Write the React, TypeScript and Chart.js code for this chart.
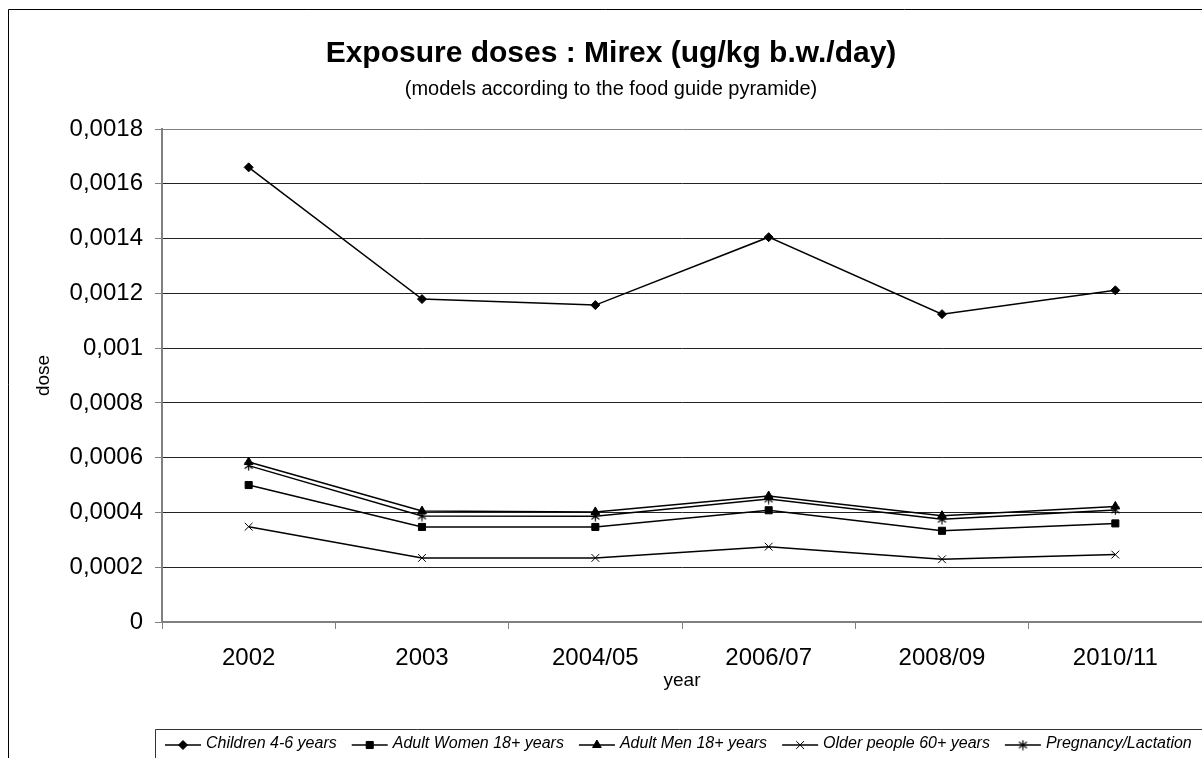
import React, { useEffect, useRef } from 'react';
import { Chart, registerables } from 'chart.js';
import { drawPoint } from 'chart.js/helpers';

Chart.register(...registerables);

const categories = ['2002', '2003', '2004/05', '2006/07', '2008/09', '2010/11'];
const children = [0.00166, 0.001179, 0.001157, 0.001405, 0.001124, 0.001211];
const adultWomen = [0.0005, 0.000347, 0.000347, 0.000408, 0.000333, 0.00036];
const adultMen = [0.000584, 0.000405, 0.000402, 0.00046, 0.000388, 0.000422];
const olderPeople = [0.000348, 0.000234, 0.000234, 0.000275, 0.000229, 0.000246];
const pregnancy = [0.000571, 0.000387, 0.000386, 0.000449, 0.000375, 0.000409];
const seriesLabels = [
  'Children 4-6 years',
  'Adult Women 18+ years',
  'Adult Men 18+ years',
  'Older people 60+ years',
  'Pregnancy/Lactation',
];
const yTicks = [0, 0.0002, 0.0004, 0.0006, 0.0008, 0.001, 0.0012, 0.0014, 0.0016, 0.0018];
const yTickLabels = ['0', '0,0002', '0,0004', '0,0006', '0,0008', '0,001', '0,0012', '0,0014', '0,0016', '0,0018'];
const titleText = 'Exposure doses : Mirex (ug/kg b.w./day)';
const subtitleText = '(models according to the food guide pyramide)';
const xTitle = 'year';
const yTitle = 'dose';

const FONT = '"Liberation Sans", Arial, Helvetica, sans-serif';
const W = 1194;
const H = 750;

function makeAsterisk(): HTMLCanvasElement {
  const c = document.createElement('canvas');
  c.width = 11;
  c.height = 11;
  const g = c.getContext('2d');
  if (g) {
    g.strokeStyle = '#000';
    g.lineWidth = 1.2;
    g.beginPath();
    g.moveTo(5.5, 0.5);
    g.lineTo(5.5, 10.5);
    g.moveTo(1.5, 2.5);
    g.lineTo(9.5, 8.5);
    g.moveTo(1.5, 8.5);
    g.lineTo(9.5, 2.5);
    g.stroke();
  }
  return c;
}

const decorPlugin = {
  id: 'decor',
  afterDraw(chart: any) {
    const ctx = chart.ctx as CanvasRenderingContext2D;
    const cw = chart.width;
    const ch = chart.height;
    ctx.save();
    // outer border (left & top visible)
    ctx.strokeStyle = '#000';
    ctx.lineWidth = 1;
    ctx.beginPath();
    ctx.moveTo(0.5, ch + 5);
    ctx.lineTo(0.5, 1.5);
    ctx.lineTo(cw + 5, 1.5);
    ctx.stroke();

    // title
    ctx.fillStyle = '#000';
    ctx.textAlign = 'center';
    ctx.textBaseline = 'alphabetic';
    ctx.font = `bold 30px ${FONT}`;
    ctx.fillText(titleText, 603, 54);
    ctx.font = `20px ${FONT}`;
    ctx.fillText(subtitleText, 603, 87);

    // legend box
    const lx = 147.5;
    const ly = 721.5;
    ctx.strokeStyle = '#333';
    ctx.beginPath();
    ctx.moveTo(lx, ch + 5);
    ctx.lineTo(lx, ly);
    ctx.lineTo(cw + 5, ly);
    ctx.stroke();

    ctx.font = `italic 16px ${FONT}`;
    ctx.textAlign = 'left';
    let x = 157;
    const lineY = 737;
    chart.data.datasets.forEach((ds: any) => {
      ctx.strokeStyle = '#000';
      ctx.fillStyle = '#000';
      ctx.lineWidth = 1.5;
      ctx.beginPath();
      ctx.moveTo(x, lineY);
      ctx.lineTo(x + 36, lineY);
      ctx.stroke();
      ctx.lineWidth = 1;
      drawPoint(ctx, {
        pointStyle: ds.pointStyle,
        rotation: 0,
        radius: ds.pointRadius,
        borderWidth: 1,
      } as any, x + 18, lineY);
      ctx.fillStyle = '#000';
      ctx.fillText(ds.label, x + 41, 740);
      x += 41 + ctx.measureText(ds.label).width + 15;
    });
    ctx.restore();
  },
};

export default function App() {
  const ref = useRef<HTMLCanvasElement | null>(null);
  useEffect(() => {
    document.body.style.margin = '0';
    document.body.style.overflow = 'hidden';
    if (!ref.current) return;
    const asterisk = makeAsterisk();
    const mk = (label: string, data: number[], pointStyle: any, r: number) => ({
      label,
      data,
      borderColor: '#000',
      backgroundColor: '#000',
      borderWidth: 1.5,
      pointStyle,
      pointRadius: r,
      pointBorderWidth: 1,
      pointBackgroundColor: '#000',
      pointBorderColor: '#000',
      tension: 0,
      fill: false,
      clip: false,
    });
    const chart = new Chart(ref.current, {
      type: 'line',
      data: {
        labels: categories,
        datasets: [
          mk(seriesLabels[0], children, 'rectRot', 4.5),
          mk(seriesLabels[1], adultWomen, 'rect', 5),
          mk(seriesLabels[2], adultMen, 'triangle', 5),
          mk(seriesLabels[3], olderPeople, 'crossRot', 5.5),
          mk(seriesLabels[4], pregnancy, asterisk, 5),
        ],
      },
      options: {
        animation: false,
        responsive: false,
        maintainAspectRatio: false,
        devicePixelRatio: 1,
        layout: { autoPadding: false, padding: { top: 121, left: 0, right: 0, bottom: 0 } },
        plugins: {
          legend: { display: false },
          title: { display: false },
          tooltip: { enabled: false },
        },
        scales: {
          x: {
            offset: true,
            grid: {
              offset: true,
              drawOnChartArea: false,
              drawTicks: true,
              tickLength: 7,
              tickColor: '#808080',
              tickWidth: 1,
            },
            border: { color: '#808080', width: 2 },
            ticks: {
              color: '#000',
              font: { family: FONT, size: 24 },
              padding: 15,
              maxRotation: 0,
              autoSkip: false,
            },
            title: {
              display: true,
              text: xTitle,
              color: '#000',
              font: { family: FONT, size: 19 },
              padding: { top: 0, bottom: 66 },
            },
            afterFit: (s: any) => {
              s.height = 136;
              s.paddingRight = 0;
              s.paddingLeft = 0;
            },
          },
          y: {
            min: 0,
            max: 0.0018,
            afterBuildTicks: (s: any) => {
              s.ticks = yTicks.map((v) => ({ value: v }));
            },
            ticks: {
              color: '#000',
              font: { family: FONT, size: 24 },
              padding: 12,
              callback: (_v: any, i: number) => yTickLabels[i],
            },
            grid: {
              color: (c: any) =>
                c.tick && c.tick.value === 0 ? 'rgba(0,0,0,0)' : c.tick && c.tick.value >= 0.0018 ? '#808080' : '#222',
              lineWidth: 1,
              tickLength: 7,
              tickColor: '#808080',
              tickWidth: 1,
            },
            border: { color: '#808080', width: 2 },
            title: {
              display: true,
              text: yTitle,
              color: '#000',
              font: { family: FONT, size: 19 },
              padding: { top: 24, bottom: 0 },
            },
            afterFit: (s: any) => {
              s.width = 154;
            },
          },
        },
      },
      plugins: [decorPlugin],
    });
    return () => chart.destroy();
  }, []);
  return (
    <div style={{ width: W, height: H, padding: '8px 0 0 8px', overflow: 'hidden', background: '#fff' }}>
      <canvas ref={ref} width={W} height={H} style={{ display: 'block', width: W, height: H }} />
    </div>
  );
}
